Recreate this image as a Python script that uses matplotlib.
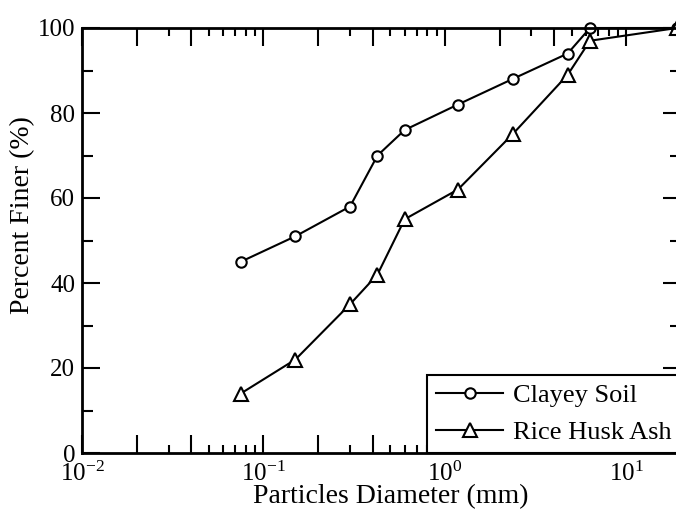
import matplotlib
matplotlib.use("Agg")
import matplotlib.pyplot as plt
from matplotlib.ticker import FixedLocator, FuncFormatter
import numpy as np

# sieve sizes (mm) and percent finer
clay_d = [0.075, 0.15, 0.3, 0.425, 0.6, 1.18, 2.36, 4.75, 6.3, 19]
clay_pf = [45, 51, 58, 70, 76, 82, 88, 94, 100, 100]
rha_d = [0.075, 0.15, 0.3, 0.425, 0.6, 1.18, 2.36, 4.75, 6.3, 19]
rha_pf = [14, 22, 35, 42, 55, 62, 75, 89, 97, 100]

plt.rcParams['font.family'] = ['Liberation Serif', 'DejaVu Serif']
plt.rcParams['mathtext.fontset'] = 'custom'
plt.rcParams['mathtext.rm'] = 'Liberation Serif'
plt.rcParams['mathtext.it'] = 'Liberation Serif'

fig = plt.figure(figsize=(6.76, 5.16), dpi=100)
W, H = 676, 516
left, right, top, bottom = 82, 681, 28, 453
ax = fig.add_axes([left / W, 1 - bottom / H, (right - left) / W, (bottom - top) / H])

ax.plot(clay_d, clay_pf, color='black', lw=1.5, marker='o', ms=7.5,
        mfc='white', mec='black', mew=1.5, label='Clayey Soil', clip_on=False)
ax.plot(rha_d, rha_pf, color='black', lw=1.5, marker='^', ms=9.5,
        mfc='white', mec='black', mew=1.5, label='Rice Husk Ash', clip_on=False)

ax.set_xscale('log')
ax.set_xlim(0.01, 20)
ax.set_ylim(0, 100)

# major ticks at 1, 2, 4 x 10^n (only decades labelled), minor at the rest
majors = [m * 10.0 ** e for e in range(-2, 2) for m in (1, 2, 4)]
minors = [m * 10.0 ** e for e in range(-2, 2) for m in (3, 5, 6, 7, 8, 9)]
ax.xaxis.set_major_locator(FixedLocator(majors))
ax.xaxis.set_minor_locator(FixedLocator(minors))


def dec_fmt(v, pos):
    e = np.log10(v)
    if abs(e - round(e)) < 1e-6:
        return r'$10^{%d}$' % round(e)
    return ''


ax.xaxis.set_major_formatter(FuncFormatter(dec_fmt))
ax.xaxis.set_minor_formatter(FuncFormatter(lambda v, p: ''))
ax.set_yticks([0, 20, 40, 60, 80, 100])
ax.set_yticks([10, 30, 50, 70, 90], minor=True)

ax.tick_params(which='both', direction='in', top=True, right=True,
               width=1.5, labelsize=18, colors='black')
ax.tick_params(which='major', length=13)
ax.tick_params(axis='x', which='major', pad=6)
ax.tick_params(axis='y', which='major', pad=5)
ax.tick_params(axis='y', which='minor', length=8)
ax.tick_params(axis='x', which='minor', length=6)

for s in ax.spines.values():
    s.set_linewidth(2)

ax.set_xlabel('Particles Diameter (mm)', fontsize=20)
ax.set_ylabel('Percent Finer (%)', fontsize=20)
ax.xaxis.set_label_coords(0.516, -0.072)
ax.yaxis.set_label_coords(-0.078, 0.56)

leg = ax.legend(loc='lower right', borderaxespad=0, fontsize=19, numpoints=1,
                handlelength=2.55, handletextpad=0.38, labelspacing=0.5,
                borderpad=0.34, fancybox=False, framealpha=1,
                edgecolor='black')
leg.get_frame().set_linewidth(1.5)

fig.savefig('out.png', dpi=100)
